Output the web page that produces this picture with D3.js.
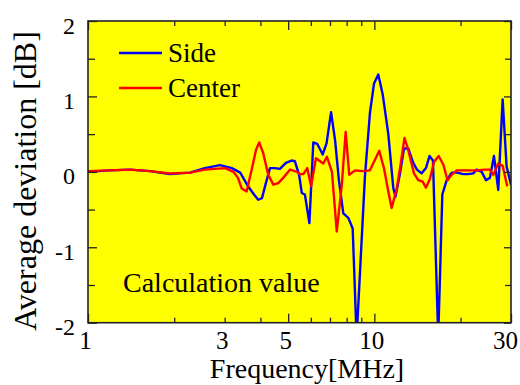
<!DOCTYPE html>
<html>
<head>
<meta charset="utf-8">
<script src="https://cdn.jsdelivr.net/npm/d3@7"></script>
<style>
    body { margin: 0; background: #fff; }
    svg { display: block; font-family: "Liberation Serif", "Times New Roman", serif; }
</style>
</head>
<body>
<svg id="chart" width="520" height="385"></svg>
<script>

// frequencies [MHz] and average deviation [dB]
var sideFreq = [1.00, 1.19, 1.40, 1.65, 1.93, 2.27, 2.56, 2.89, 3.18, 3.40, 3.62, 3.80, 3.93, 4.05, 4.18,
    4.32, 4.50, 4.68, 4.91, 5.14, 5.28, 5.46, 5.58, 5.72, 5.93, 6.12, 6.32, 6.60, 6.81, 7.06, 7.29,
    7.52, 7.79, 8.11, 8.40, 8.67, 9.27, 9.65, 9.97, 10.32, 10.69, 11.18, 11.64, 11.85, 12.29, 12.69,
    13.13, 13.67, 14.08, 14.63, 15.14, 15.58, 16.02, 16.71, 17.27, 17.89, 18.62, 19.43, 20.43, 21.23,
    22.14, 22.76, 23.70, 24.53, 25.32, 26.16, 27.08, 28.05, 28.96, 30.0];
var sideValues = [0.00, 0.02, 0.03, 0.01, -0.03, -0.01, 0.05, 0.09, 0.05, -0.01, -0.19, -0.30, -0.37, -0.35, -0.15,
    0.05, 0.05, 0.04, 0.12, 0.15, 0.14, -0.04, -0.28, -0.30, -0.68, 0.39, 0.37, 0.23, 0.38, 0.79, 0.42,
    -0.11, -0.55, -0.61, -0.75, -2.2, -0.06, 0.78, 1.17, 1.29, 1.03, 0.51, -0.21, -0.33, -0.02, 0.31,
    0.31, 0.12, 0.03, -0.02, 0.05, 0.21, 0.15, -2.2, -0.30, -0.11, -0.01, -0.01, -0.03, -0.03,
    -0.02, 0.03, 0.00, -0.11, -0.08, 0.21, -0.24, 0.96, 0.07, -0.17];

var centerFreq = [1.00, 1.19, 1.40, 1.65, 1.93, 2.27, 2.56, 3.01, 3.22, 3.34, 3.44, 3.58, 3.73, 3.86, 3.96,
    4.09, 4.26, 4.44, 4.62, 4.83, 5.08, 5.36, 5.50, 5.65, 5.83, 6.01, 6.25, 6.63, 6.83, 7.11, 7.39,
    7.69, 7.94, 8.17, 8.56, 9.14, 9.65, 10.05, 10.40, 10.80, 11.16, 11.49, 11.97, 12.34, 12.74, 13.13,
    13.75, 14.23, 14.75, 15.14, 15.64, 16.15, 16.77, 17.43, 18.00, 18.62, 19.39, 20.89, 22.76, 24.33,
    25.32, 26.02, 27.08, 28.05, 29.11];
var centerValues = [0.01, 0.02, 0.03, 0.01, -0.02, -0.01, 0.03, 0.05, 0.00, -0.08, -0.22, -0.26, 0.03, 0.29, 0.39,
    0.25, -0.04, -0.17, -0.15, -0.07, 0.03, 0.00, -0.03, -0.03, 0.05, -0.19, 0.18, 0.11, 0.20, 0.00, -0.79,
    -0.19, 0.53, -0.04, 0.02, 0.01, 0.02, 0.16, 0.28, 0.05, -0.24, -0.48, -0.22, 0.09, 0.45, 0.29,
    -0.02, -0.11, -0.13, -0.21, -0.09, 0.13, 0.21, 0.09, -0.11, -0.04, 0.02, 0.02, 0.02, 0.03,
    0.03, -0.04, 0.11, 0.08, -0.19];

var xLabelTicks = [1, 3, 5, 10, 30];
var xLongTicks = [1, 5, 10, 30];
var xShortTicks = [2, 3, 4, 6, 7, 8, 9, 20];
var yLabelTicks = [-2, -1, 0, 1, 2];
var yHalfTicks = [-1.5, -0.5, 0.5, 1.5];

var seriesNames = ['Side', 'Center'];


var svg = d3.select('#chart');

var plot = {left: 88, right: 511, top: 21, bottom: 322.7};

var x = d3.scaleLog().domain([1, 30]).range([plot.left, plot.right]);
var y = d3.scaleLinear().domain([-2, 2]).range([plot.bottom, plot.top]);

// plain hyphen for negatives, like the original
function plainLabel(d) { return String(d); }

// plot area
svg.append('rect')
    .attr('x', plot.left)
    .attr('y', plot.top)
    .attr('width', plot.right - plot.left)
    .attr('height', plot.bottom - plot.top)
    .attr('fill', '#ffff00');

svg.append('clipPath')
    .attr('id', 'plotClip')
    .append('rect')
    .attr('x', plot.left)
    .attr('y', plot.top)
    .attr('width', plot.right - plot.left)
    .attr('height', plot.bottom - plot.top);

var line = d3.line()
    .x(function (d) { return x(d[0]); })
    .y(function (d) { return y(d[1]); });

var centerData = centerFreq.map(function (f, i) { return [f, centerValues[i]]; });
var sideData = sideFreq.map(function (f, i) { return [f, sideValues[i]]; });

var lines = svg.append('g').attr('clip-path', 'url(#plotClip)');

lines.append('path')
    .datum(sideData)
    .attr('d', line)
    .attr('fill', 'none')
    .attr('stroke', '#0000ff')
    .attr('stroke-width', 2.4)
    .attr('stroke-linejoin', 'round');

lines.append('path')
    .datum(centerData)
    .attr('d', line)
    .attr('fill', 'none')
    .attr('stroke', '#ff0000')
    .attr('stroke-width', 2.4)
    .attr('stroke-linejoin', 'round');

// inside ticks on all four sides
function tickAxis(axis, values, size, tx, ty) {
    var g = svg.append('g')
        .attr('transform', 'translate(' + tx + ',' + ty + ')')
        .call(axis.tickValues(values).tickSize(-size).tickFormat(''));
    g.select('.domain').remove();
    g.selectAll('line').attr('stroke', '#222').attr('stroke-width', 1.3);
}

tickAxis(d3.axisBottom(x), xLongTicks, 9, 0, plot.bottom);
tickAxis(d3.axisBottom(x), xShortTicks, 5, 0, plot.bottom);
tickAxis(d3.axisTop(x), xLongTicks, 9, 0, plot.top);
tickAxis(d3.axisTop(x), xShortTicks, 5, 0, plot.top);
tickAxis(d3.axisLeft(y), yLabelTicks, 9, plot.left, 0);
tickAxis(d3.axisLeft(y), yHalfTicks, 7, plot.left, 0);
tickAxis(d3.axisRight(y), yLabelTicks, 7, plot.right, 0);
tickAxis(d3.axisRight(y), yHalfTicks, 6, plot.right, 0);

// frame
svg.append('rect')
    .attr('x', plot.left)
    .attr('y', plot.top)
    .attr('width', plot.right - plot.left)
    .attr('height', plot.bottom - plot.top)
    .attr('fill', 'none')
    .attr('stroke', '#222')
    .attr('stroke-width', 1.6);

// tick labels
var xLabels = svg.append('g')
    .attr('transform', 'translate(0,' + plot.bottom + ')')
    .call(d3.axisBottom(x).tickValues(xLabelTicks).tickSize(0).tickPadding(9).tickFormat(plainLabel));
xLabels.select('.domain').remove();
xLabels.attr('font-family', null).attr('font-size', 25);
xLabels.selectAll('text')
    .attr('fill', '#000')
    .attr('dx', function (d) { return d === 30 ? -6 : -3; });

var yLabels = svg.append('g')
    .attr('transform', 'translate(' + plot.left + ',0)')
    .call(d3.axisLeft(y).tickValues(yLabelTicks).tickSize(0).tickPadding(13).tickFormat(plainLabel));
yLabels.select('.domain').remove();
yLabels.attr('font-family', null).attr('font-size', 24);
yLabels.selectAll('text')
    .attr('fill', '#000')
    .attr('dy', '0.5em');

// axis titles
svg.append('text')
    .attr('x', 307)
    .attr('y', 378)
    .attr('text-anchor', 'middle')
    .attr('font-size', 28)
    .text('Frequency[MHz]');

svg.append('text')
    .attr('transform', 'translate(36,181) rotate(-90)')
    .attr('text-anchor', 'middle')
    .attr('font-size', 32)
    .text('Average deviation [dB]');

// legend
var legend = svg.append('g');
[['#0000ff', 53], ['#ff0000', 88]].forEach(function (s, i) {
    legend.append('line')
        .attr('x1', 119).attr('x2', 162)
        .attr('y1', s[1]).attr('y2', s[1])
        .attr('stroke', s[0])
        .attr('stroke-width', 2.4);
    legend.append('text')
        .attr('x', 168)
        .attr('y', s[1] + 9)
        .attr('font-size', 27)
        .text(seriesNames[i]);
});

svg.append('text')
    .attr('x', 123)
    .attr('y', 292)
    .attr('font-size', 28)
    .text('Calculation value');

</script>
</body>
</html>
